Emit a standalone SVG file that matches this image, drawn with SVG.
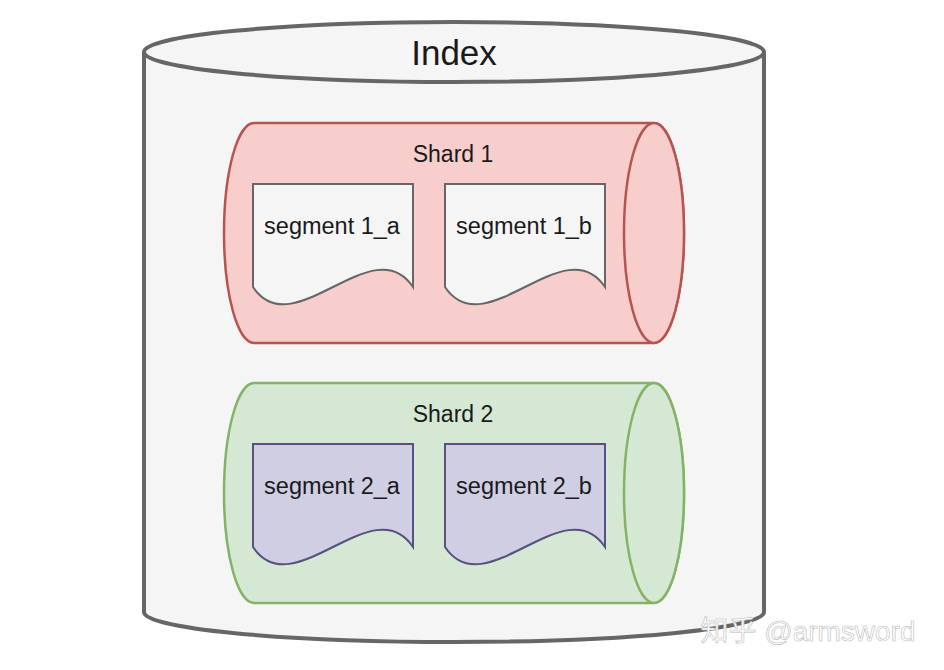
<svg xmlns="http://www.w3.org/2000/svg" width="944" height="670" viewBox="0 0 944 670">
<style>
text{font-family:"Liberation Sans",Arial,sans-serif;fill:#1a1a1a;text-anchor:middle}
.seg{font-size:23.5px}
.sh{font-size:23px}
.r{fill:#f8cecc;stroke:#b85450;stroke-width:2.5}
.g{fill:#d5e8d4;stroke:#82b366;stroke-width:2.5}
.d1{fill:#f5f5f5;stroke:#666;stroke-width:2}
.d2{fill:#d0cee2;stroke:#56517e;stroke-width:2}
</style>
<rect width="944" height="670" fill="#fff"/>
<g id="index">
<path d="M144,52 V612 A310,30 0 0 0 764,612 V52" fill="#f5f5f5" stroke="#666" stroke-width="4"/>
<ellipse cx="454" cy="52" rx="310" ry="30" fill="#f5f5f5" stroke="#666" stroke-width="4"/>
<text x="454" y="65" font-size="35">Index</text>
</g>
<g id="shard1">
<path class="r" d="M254,123 H654 A30,110 0 0 1 654,343 H254 A30,110 0 0 1 254,123 Z"/>
<ellipse class="r" cx="654" cy="233" rx="30" ry="110"/>
<text class="sh" x="453" y="162">Shard 1</text>
</g>
<g id="seg1a">
<path class="d1" d="M253,184 H413 V287 C373,227 293,347 253,287 Z"/>
<text class="seg" x="332" y="234">segment 1_a</text>
</g>
<g id="seg1b">
<path class="d1" d="M445,184 H605 V287 C565,227 485,347 445,287 Z"/>
<text class="seg" x="524" y="234">segment 1_b</text>
</g>
<g id="shard2">
<path class="g" d="M254,383 H654 A30,110 0 0 1 654,603 H254 A30,110 0 0 1 254,383 Z"/>
<ellipse class="g" cx="654" cy="493" rx="30" ry="110"/>
<text class="sh" x="453" y="422">Shard 2</text>
</g>
<g id="seg2a">
<path class="d2" d="M253,444 H413 V547 C373,487 293,607 253,547 Z"/>
<text class="seg" x="332" y="494">segment 2_a</text>
</g>
<g id="seg2b">
<path class="d2" d="M445,444 H605 V547 C565,487 485,607 445,547 Z"/>
<text class="seg" x="524" y="494">segment 2_b</text>
</g>
<g id="connectors"/>
<text x="808" y="641" font-size="28" style="fill:#fff;stroke:#bbb;stroke-width:0.6;font-family:'Liberation Sans','Noto Sans CJK SC',sans-serif">知乎 @armsword</text>
</svg>
